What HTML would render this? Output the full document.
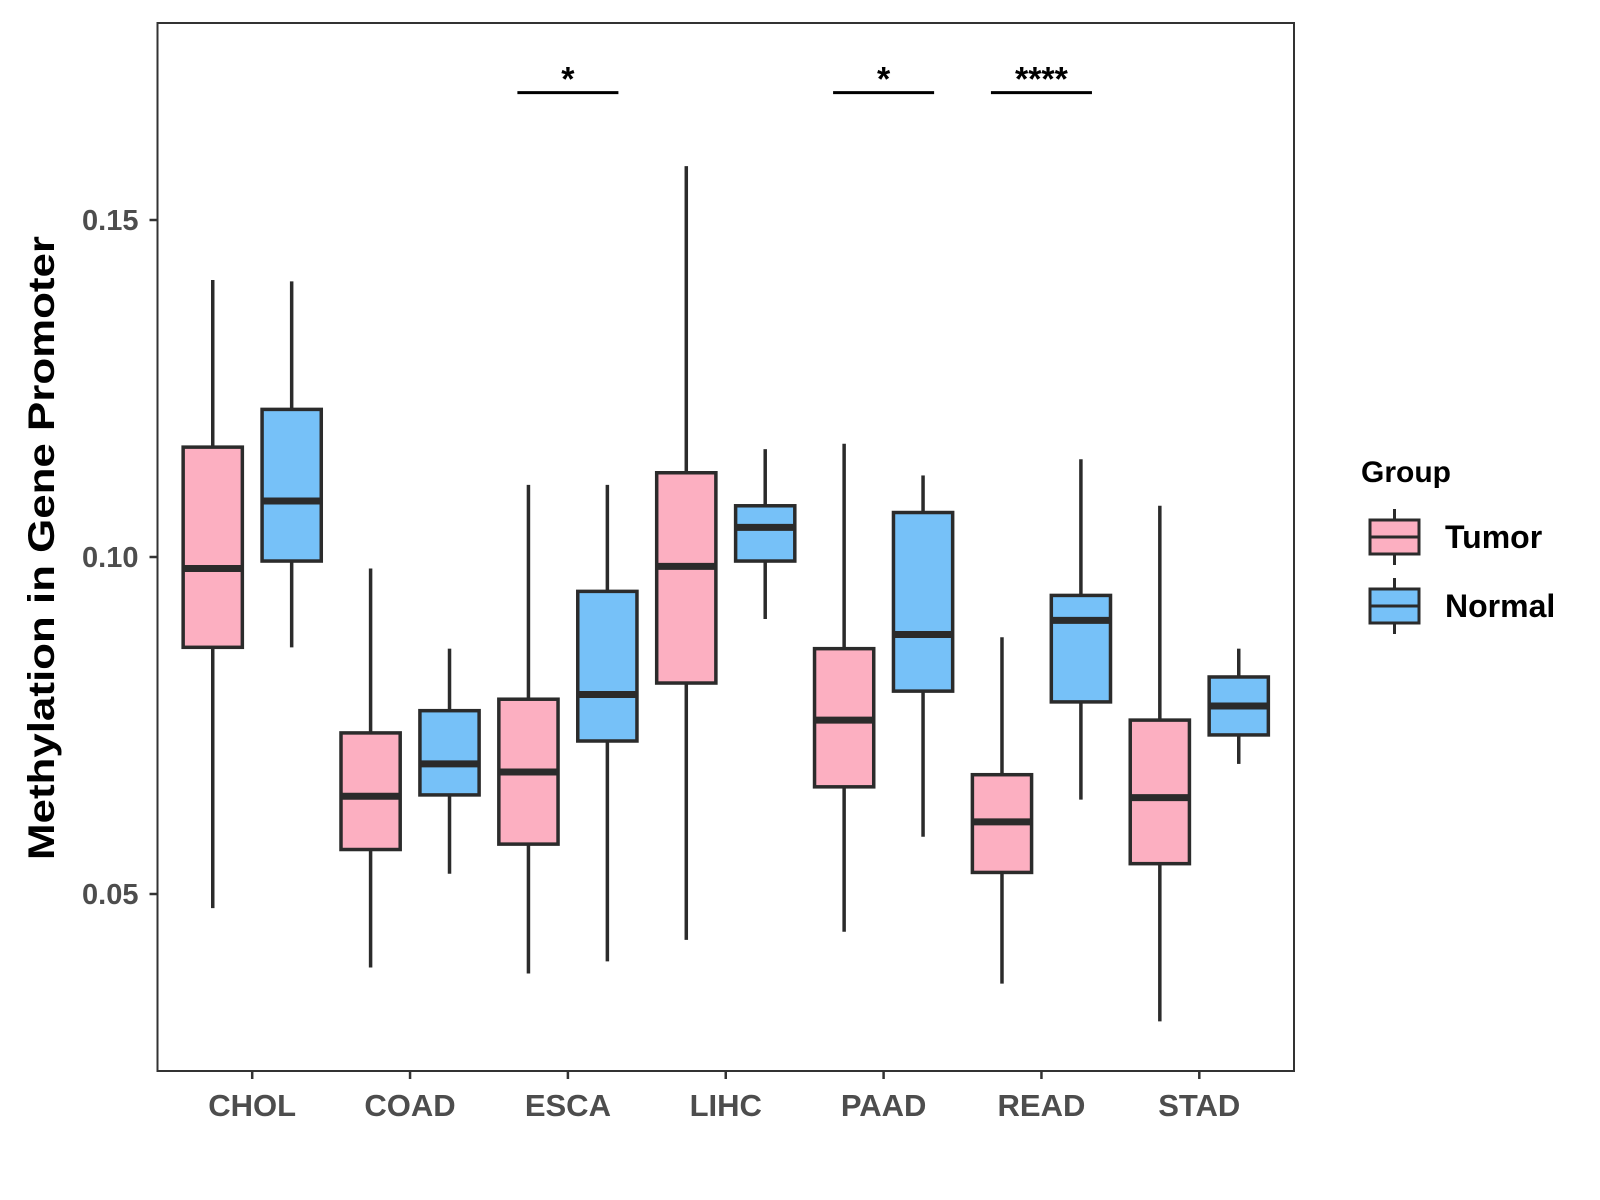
<!DOCTYPE html>
<html><head><meta charset="utf-8"><style>
html,body{margin:0;padding:0;background:#fff;}
svg{display:block;font-family:"Liberation Sans",Arial,sans-serif;}
</style></head><body>
<svg id="chart" width="1600" height="1200" viewBox="0 0 1600 1200">
<g id="plot"></g>
</svg>
<script>
const categories=["CHOL","COAD","ESCA","LIHC","PAAD","READ","STAD"];
const groups=["Tumor","Normal"];
// [lower whisker, Q1, median, Q3, upper whisker]
const tumorStats=[
 [0.0479,0.0866,0.0983,0.1163,0.1411],
 [0.0391,0.0566,0.0645,0.0739,0.0983],
 [0.0382,0.0574,0.0681,0.0789,0.1107],
 [0.0432,0.0813,0.0986,0.1125,0.1580],
 [0.0444,0.0659,0.0758,0.0864,0.1168],
 [0.0367,0.0532,0.0607,0.0677,0.0881],
 [0.0311,0.0545,0.0643,0.0758,0.1076]];
const normalStats=[
 [0.0866,0.0994,0.1083,0.1219,0.1409],
 [0.0530,0.0647,0.0693,0.0772,0.0864],
 [0.0400,0.0727,0.0796,0.0949,0.1107],
 [0.0908,0.0994,0.1044,0.1076,0.1160],
 [0.0585,0.0801,0.0885,0.1066,0.1121],
 [0.0640,0.0785,0.0906,0.0943,0.1145],
 [0.0693,0.0736,0.0779,0.0822,0.0864]];
const yTicks=[0.05,0.10,0.15];
const yTickLabels=["0.05","0.10","0.15"];
const sigCategories=["ESCA","PAAD","READ"];
const sigLabels=["*","*","****"];
const sigLevel=0.1689;

const NS="http://www.w3.org/2000/svg";
const L=157.5,R=1294,T=23,B=1071;
const unit=(R-L)/7.2;
function xPos(i){return L+(i+0.6)*unit;}
function yPos(v){return 557-(v-0.10)*6740;}
const g=document.getElementById('plot');
function mk(tag,attrs,parent){const e=document.createElementNS(NS,tag);for(const k in attrs)e.setAttribute(k,attrs[k]);(parent||g).appendChild(e);return e;}
const LC="#2b2b2b",LW=3.5;

const panel=mk('rect',{x:L,y:T,width:R-L,height:B-T,fill:"none",stroke:"#333",'stroke-width':2});



yTicks.forEach((v,i)=>{
 const y=yPos(v);
 const t=mk('line',{x1:L-8,x2:L,y1:y,y2:y,stroke:"#333",'stroke-width':2.5});
 
 
 const tx=mk('text',{x:L-19,y:y+10,'text-anchor':'end','font-size':29,'font-weight':'bold',fill:'#4d4d4d'});
 tx.textContent=yTickLabels[i];
 
 
});
categories.forEach((c,i)=>{
 const x=xPos(i);
 const t=mk('line',{x1:x,x2:x,y1:B,y2:B+8,stroke:"#333",'stroke-width':2.5});
 
 
 const tx=mk('text',{x:x,y:B+45,'text-anchor':'middle','font-size':31,'font-weight':'bold',fill:'#4d4d4d'});
 tx.textContent=c;
 
 
});

const hw=0.1875*unit, off=0.25*unit;
function drawBox(s,cx,fill,name){
 const bg=mk('g',{});
 
 
 mk('line',{x1:cx,x2:cx,y1:yPos(s[4]),y2:yPos(s[3]),stroke:LC,'stroke-width':LW},bg);
 mk('line',{x1:cx,x2:cx,y1:yPos(s[1]),y2:yPos(s[0]),stroke:LC,'stroke-width':LW},bg);
 mk('rect',{x:cx-hw,y:yPos(s[3]),width:2*hw,height:yPos(s[1])-yPos(s[3]),fill:fill,stroke:LC,'stroke-width':LW},bg);
 mk('line',{x1:cx-hw,x2:cx+hw,y1:yPos(s[2]),y2:yPos(s[2]),stroke:LC,'stroke-width':7},bg);
}
categories.forEach((c,i)=>{
 drawBox(tumorStats[i],xPos(i)-off,"#FCAFC1",'box-tumor-'+c.toLowerCase());
 drawBox(normalStats[i],xPos(i)+off,"#76C1F8",'box-normal-'+c.toLowerCase());
});

sigCategories.forEach((c,k)=>{
 const i=categories.indexOf(c);const x=xPos(i);const y=yPos(sigLevel);
 const ln=mk('line',{x1:x-0.32*unit,x2:x+0.32*unit,y1:y,y2:y,stroke:"#000",'stroke-width':3});
 
 
 const tx=mk('text',{x:x,y:y-2,'text-anchor':'middle','font-size':34,'font-weight':'bold',fill:'#000'});
 tx.textContent=sigLabels[k];
 
 
});

const yt=mk('text',{x:0,y:0,transform:'translate(54,548) rotate(-90)','text-anchor':'middle','font-size':37,'font-weight':'bold',fill:'#000',textLength:624,lengthAdjust:'spacingAndGlyphs'});
yt.textContent="Methylation in Gene Promoter";



const lg=mk('g',{});


const lt=mk('text',{x:1361,y:482,'font-size':30,'font-weight':'bold',fill:'#000'},lg);
lt.textContent="Group";


const legFill=["#FCAFC1","#76C1F8"];
groups.forEach((gname,k)=>{
 const cy=537+k*69;
 const e=mk('g',{},lg);
 
 
 mk('line',{x1:1394.5,x2:1394.5,y1:cy-28,y2:cy+28,stroke:LC,'stroke-width':3},e);
 mk('rect',{x:1370,y:cy-17,width:49,height:34,fill:legFill[k],stroke:LC,'stroke-width':3},e);
 mk('line',{x1:1370,x2:1419,y1:cy,y2:cy,stroke:LC,'stroke-width':3},e);
 const tx=mk('text',{x:1445,y:cy+11,'font-size':32,'font-weight':'bold',fill:'#000'},e);
 tx.textContent=gname;
});
</script>
</body></html>
